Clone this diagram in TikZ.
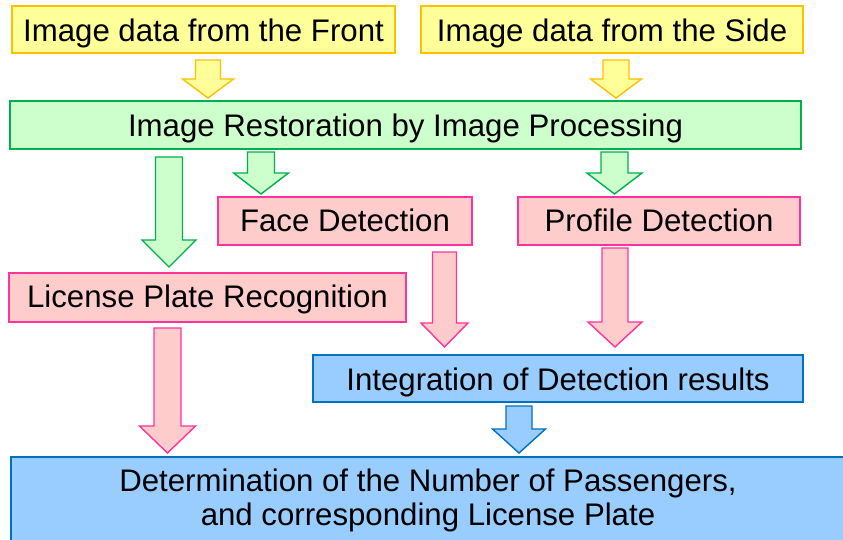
\documentclass[tikz,border=0pt]{standalone}
\usepackage{fontspec}
\setmainfont{Liberation Sans}
\definecolor{yfill}{HTML}{FFFF99}
\definecolor{ydraw}{HTML}{FFC000}
\definecolor{gfill}{HTML}{CCFFCC}
\definecolor{gdraw}{HTML}{00B050}
\definecolor{pfill}{HTML}{FFCCCC}
\definecolor{pdraw}{HTML}{FF3399}
\definecolor{bfill}{HTML}{99CCFF}
\definecolor{bdraw}{HTML}{0070C0}
\newcommand\blockarrow[8]{%
  \draw[#1] (#2-#6,#3) -- (#2+#6,#3) -- (#2+#6,#4) -- (#2+#7,#4) -- (#2,#5)
    -- (#2-#7,#4) -- (#2-#6,#4) -- cycle;}
\begin{document}
\begin{tikzpicture}[x=1pt,y=-1pt,
  box/.style={draw, line width=1.4pt, inner sep=0pt, text=black,
    font=\fontsize{31.2}{34}\selectfont, text height=24pt, text depth=0pt},
  ybox/.style={box, fill=yfill, draw=ydraw},
  gbox/.style={box, fill=gfill, draw=gdraw},
  pbox/.style={box, fill=pfill, draw=pdraw},
  bbox/.style={box, fill=bfill, draw=bdraw},
  txt/.style={inner sep=0pt, text=black, font=\fontsize{31.2}{34}\selectfont},
  yarr/.style={fill=yfill, draw=ydraw, line width=1.4pt},
  garr/.style={fill=gfill, draw=gdraw, line width=1.4pt},
  parr/.style={fill=pfill, draw=pdraw, line width=1.4pt},
  barr/.style={fill=bfill, draw=bdraw, line width=1.4pt}]
\useasboundingbox (0,0) rectangle (843,540);
\clip (0,0) rectangle (843,540);
\node[ybox, minimum width=383pt, minimum height=47pt] (front) at (203.5,29.5) {Image data from the Front};
\node[ybox, minimum width=382pt, minimum height=47pt] (side) at (612,29.5) {Image data from the Side};
\node[gbox, minimum width=791pt, minimum height=48pt] (restore) at (405.5,125) {Image Restoration by Image Processing};
\node[pbox, minimum width=254pt, minimum height=48pt, text height=22pt] (face) at (345,221) {Face Detection};
\node[pbox, minimum width=282pt, minimum height=48pt, text height=22pt] (profile) at (659,221) {Profile Detection};
\node[pbox, minimum width=397pt, minimum height=49pt, text height=20pt] (lpr) at (207.5,297.5) {License Plate Recognition};
\node[bbox, minimum width=490pt, minimum height=47pt, text height=23pt] (integ) at (558,378.5) {Integration of Detection results};
\node[bbox, minimum width=834pt, minimum height=88pt] (final) at (428,501) {};
\node[txt, align=center, anchor=north] (finaltext) at (428,468.5)
  {Determination of the Number of Passengers,\\and corresponding License Plate};
\blockarrow{yarr}{208}{60}{79}{98}{12.5}{25.5}{}
\blockarrow{yarr}{616}{60}{79}{98}{13}{25.5}{}
\blockarrow{garr}{169}{157}{240}{267}{13.5}{27}{}
\blockarrow{garr}{261}{152}{173}{194}{13.5}{27.5}{}
\blockarrow{garr}{614.5}{152}{173}{194}{13.5}{27.5}{}
\blockarrow{parr}{444.5}{252}{323}{347}{12}{23.5}{}
\blockarrow{parr}{615}{248}{322}{347}{13}{27}{}
\blockarrow{parr}{167.5}{328}{426}{453}{13.5}{28}{}
\blockarrow{barr}{519}{406}{429}{453}{13}{26.5}{}
\end{tikzpicture}
\end{document}
